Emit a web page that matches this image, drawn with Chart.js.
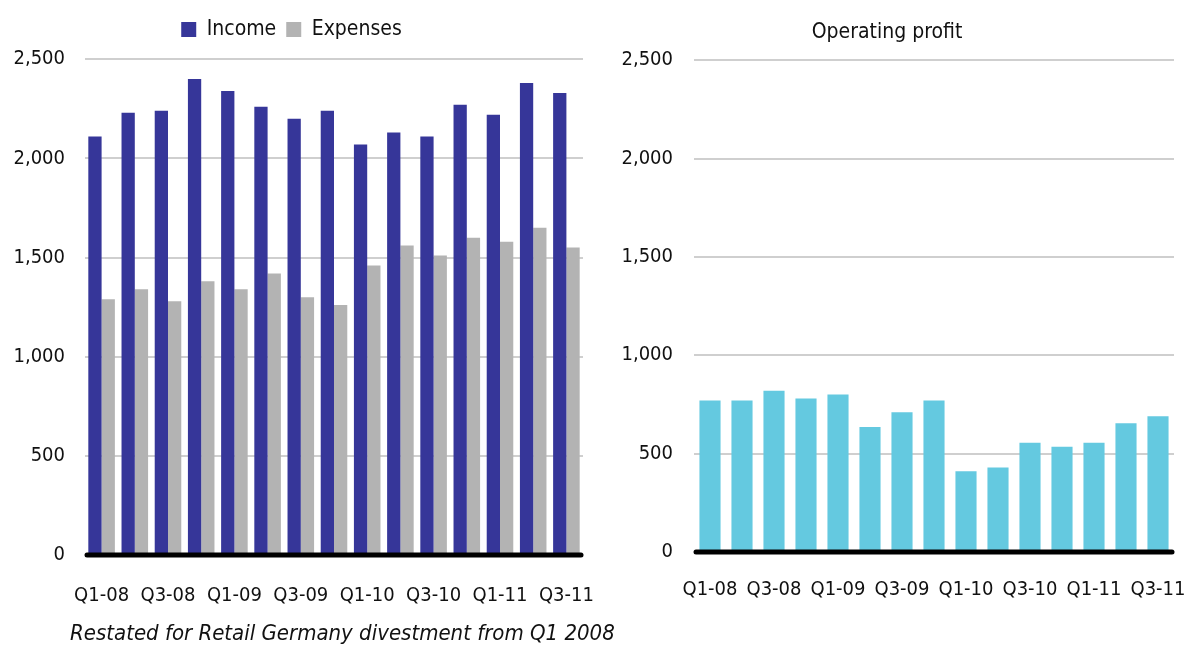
<!DOCTYPE html>
<html>
<head>
<meta charset="utf-8">
<script src="https://cdn.jsdelivr.net/npm/chart.js@4.4.0/dist/chart.umd.min.js"></script>
<style>
  body { margin: 0; background: #fff; }
  #wrap { position: relative; width: 1185px; height: 646px; }
  #leftChart { position: absolute; left: 0; top: 0; }
  #rightChart { position: absolute; left: 600px; top: 0; }
  #note {
    position: absolute; left: 70px; top: 618px;
    font: italic 22px "DejaVu Sans Condensed", "Liberation Sans", sans-serif;
    color: #111; white-space: nowrap; line-height: 30px;
  }
</style>
</head>
<body>
<div id="wrap">
  <canvas id="leftChart" width="600" height="646"></canvas>
  <canvas id="rightChart" width="585" height="646"></canvas>
  <div id="note">Restated for Retail Germany divestment from Q1 2008</div>
</div>
<script>
// Quarterly data
const quarters = ["Q1-08", "Q2-08", "Q3-08", "Q4-08", "Q1-09", "Q2-09", "Q3-09", "Q4-09",
                  "Q1-10", "Q2-10", "Q3-10", "Q4-10", "Q1-11", "Q2-11", "Q3-11"];
const income   = [2110, 2230, 2240, 2400, 2340, 2260, 2200, 2240, 2070, 2130, 2110, 2270, 2220, 2380, 2330];
const expenses = [1290, 1340, 1280, 1380, 1340, 1420, 1300, 1260, 1460, 1560, 1510, 1600, 1580, 1650, 1550];
const profit   = [770, 770, 820, 780, 800, 635, 710, 770, 410, 430, 555, 535, 555, 655, 690];
const yTicks   = [0, 500, 1000, 1500, 2000, 2500];

Chart.defaults.font.family = '"DejaVu Sans Condensed", "Liberation Sans", sans-serif';
Chart.defaults.font.size = 20;
Chart.defaults.color = "#111";

// thick black zero line drawn over the bar bottoms
const baseLine = {
  id: "baseLine",
  afterDatasetsDraw(chart) {
    const y0 = chart.scales.y.getPixelForValue(0);
    const a = chart.chartArea;
    const c = chart.ctx;
    c.save();
    c.strokeStyle = "#000";
    c.lineWidth = 5;
    c.lineCap = "round";
    c.beginPath();
    c.moveTo(a.left + 2, y0);
    c.lineTo(a.right - 2, y0);
    c.stroke();
    c.restore();
  }
};

function yScale(axisWidth, pad) {
  return {
    min: 0, max: yTicks[yTicks.length - 1],
    afterBuildTicks: (s) => { s.ticks = yTicks.map(v => ({ value: v })); },
    afterFit: (s) => { s.width = axisWidth; },
    border: { display: false },
    grid: {
      drawTicks: false,
      lineWidth: 2,
      color: (c) => c.tick && c.tick.value === 0 ? "rgba(0,0,0,0)" : "#cfcfcf"
    },
    ticks: {
      padding: pad,
      callback: (v) => v.toLocaleString("en-US")
    }
  };
}

function xScale(axisHeight, pad) {
  return {
    afterFit: (s) => { s.height = axisHeight; s.paddingLeft = 0; s.paddingRight = 0; },
    border: { display: false },
    grid: { display: false, drawTicks: false },
    ticks: {
      autoSkip: false, maxRotation: 0, minRotation: 0, padding: pad,
      callback: (v, i) => (i % 2 === 0 ? quarters[i] : "")
    }
  };
}

// Income vs expenses
new Chart(document.getElementById("leftChart"), {
  type: "bar",
  data: {
    labels: quarters,
    datasets: [
      { label: "Income", data: income, backgroundColor: "#363699", categoryPercentage: 0.8, barPercentage: 1.0 },
      { label: "Expenses", data: expenses, backgroundColor: "#b3b3b3", categoryPercentage: 0.8, barPercentage: 1.0 }
    ]
  },
  options: {
    responsive: false,
    animation: false,
    layout: { padding: { top: 9, right: 17, bottom: 0, left: 0 } },
    plugins: {
      legend: {
        position: "top",
        labels: { boxWidth: 15, boxHeight: 15, padding: 10, color: "#111", font: { size: 21 } }
      },
      // empty title used as a spacer between legend and plot
      title: {
        display: true, text: " ", weight: 500,
        font: { size: 1 }, padding: { top: 8, bottom: 0 }
      },
      tooltip: { enabled: false }
    },
    scales: {
      x: xScale(91, 29),
      y: yScale(85, 20)
    }
  },
  plugins: [baseLine]
});

// Operating profit
new Chart(document.getElementById("rightChart"), {
  type: "bar",
  data: {
    labels: quarters,
    datasets: [
      { label: "Operating profit", data: profit, backgroundColor: "#64c9e0", categoryPercentage: 0.66, barPercentage: 1.0 }
    ]
  },
  options: {
    responsive: false,
    animation: false,
    layout: { padding: { top: 0, right: 11, bottom: 0, left: 0 } },
    plugins: {
      legend: { display: false },
      title: {
        display: true,
        text: "Operating profit",
        color: "#111",
        font: { size: 21, weight: "normal" },
        padding: { top: 20, bottom: 15 }
      },
      tooltip: { enabled: false }
    },
    scales: {
      x: xScale(94, 26),
      y: yScale(94, 21)
    }
  },
  plugins: [baseLine]
});
</script>
</body>
</html>
